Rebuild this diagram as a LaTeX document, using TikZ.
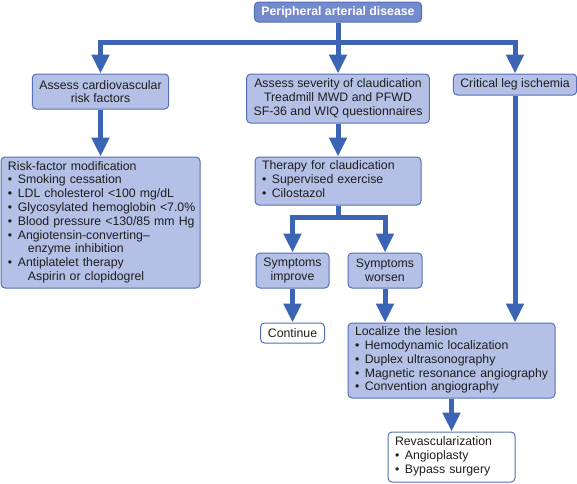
\documentclass[tikz,border=0pt]{standalone}
\usepackage{fontspec}
\setmainfont{Liberation Sans}
\usetikzlibrary{arrows.meta}
\definecolor{boxfill}{RGB}{180,192,230}
\definecolor{boxdraw}{RGB}{85,112,182}
\definecolor{arrowcol}{RGB}{60,100,180}
\definecolor{topfill}{RGB}{115,138,205}
\definecolor{txt}{RGB}{30,30,30}
\newcommand{\bul}{\textbullet\hspace{0.45em}}
\newcommand{\cont}{\hspace*{20pt}}
\newcommand{\tl}[1]{\begin{tabular}{@{}l@{}}#1\end{tabular}}
\begin{document}
\begin{tikzpicture}[x=1pt,y=-1pt,
  font=\fontsize{12.3}{13.8}\selectfont,
  box/.style={draw=boxdraw, fill=boxfill, rounded corners=4pt, line width=1pt,
    inner xsep=7pt, inner ysep=0pt, text=txt},
  wbox/.style={box, fill=white},
  ctr/.style={align=center},
  conn/.style={draw=arrowcol, line width=5pt, line join=miter},
  arr/.style={conn, -{Triangle[width=17pt,length=19pt]}}]
\useasboundingbox (0,0) rectangle (577,483);

\node[box, fill=topfill, text=white, font=\fontsize{12.3}{13.8}\selectfont\bfseries,
  minimum width=162pt, minimum height=20pt] (top) at (338,12) {Peripheral arterial disease};

\node[box, ctr, minimum width=135pt, minimum height=35pt] (assess) at (100.5,91.5)
  {Assess cardiovascular\\risk factors};
\node[box, ctr, minimum width=181pt, minimum height=49pt] (sev) at (338,98.5)
  {Assess severity of claudication\\Treadmill MWD and PFWD\\SF-36 and WIQ questionnaires};
\node[box, ctr, minimum width=122pt, minimum height=21pt] (crit) at (515,84.5)
  {Critical leg ischemia};

\node[box, text width=185pt, minimum height=131pt] (risk) at (100.5,222.5)
  {\tl{Risk-factor modification\\
   \bul Smoking cessation\\
   \bul LDL cholesterol <100 mg/dL\\
   \bul Glycosylated hemoglobin <7.0\%\\
   \bul Blood pressure <130/85 mm Hg\\
   \bul Angiotensin-converting–\\
   \cont enzyme inhibition\\
   \bul Antiplatelet therapy\\
   \cont Aspirin or clopidogrel}};

\node[box, text width=152pt, minimum height=48pt] (ther) at (338,181)
  {\tl{Therapy for claudication\\
   \bul Supervised exercise\\
   \bul Cilostazol}};

\node[box, ctr, minimum width=73pt, minimum height=35pt, inner xsep=2pt] (impr) at (292.5,270.5)
  {Symptoms\\improve};
\node[box, ctr, minimum width=74pt, minimum height=35pt, inner xsep=2pt] (wors) at (385,270.5)
  {Symptoms\\worsen};
\node[wbox, ctr, minimum width=64pt, minimum height=20pt, inner xsep=2pt] (cont) at (292.5,333)
  {Continue};

\node[box, text width=193pt, minimum height=75pt] (loc) at (451.5,360.5)
  {\tl{Localize the lesion\\
   \bul Hemodynamic localization\\
   \bul Duplex ultrasonography\\
   \bul Magnetic resonance angiography\\
   \bul Convention angiography}};

\node[wbox, text width=113pt, minimum height=50pt] (rev) at (451.5,457)
  {\tl{Revascularization\\
   \bul Angioplasty\\
   \bul Bypass surgery}};

\coordinate (j1) at (338,42);
\coordinate (j2) at (338,217);

\draw[conn] (top) -- (j1);
\draw[arr] (j1) -| (assess);
\draw[arr] (j1) -- (sev);
\draw[arr] (j1) -| (crit);
\draw[arr] (assess) -- (risk);
\draw[arr] (sev) -- (ther);
\draw[conn] (ther) -- (j2);
\draw[arr] (j2) -| (impr);
\draw[arr] (j2) -| (wors);
\draw[arr] (impr) -- (cont);
\draw[arr] (wors.south) -- (wors.south |- loc.north);
\draw[arr] (crit.south) -- (crit.south |- loc.north);
\draw[arr] (loc) -- (rev);
\end{tikzpicture}
\end{document}
